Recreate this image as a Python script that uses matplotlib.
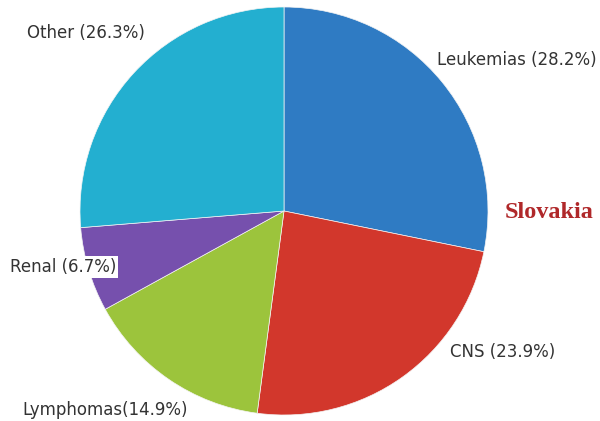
import matplotlib.pyplot as plt

labels = ['Leukemias', 'CNS', 'Lymphomas', 'Renal', 'Other']
shares = [28.2, 23.9, 14.9, 6.7, 26.3]
colors = ['#2f7bc3', '#d2372c', '#9cc43c', '#7650ad', '#23afd0']

fig = plt.figure(figsize=(6, 4.21), dpi=100)
ax = fig.add_axes([0, 0, 1, 1])

ax.pie(shares, colors=colors, startangle=90, counterclock=False,
       center=(284, 210), radius=204, frame=True,
       wedgeprops=dict(edgecolor='#f4f4f4', linewidth=0.5))
ax.set_xlim(0, 600)
ax.set_ylim(0, 421)
ax.set_aspect('equal')
ax.axis('off')

txt = dict(fontsize=12, color='#333333', family='DejaVu Sans', va='center')
ax.text(437, 421 - 60, '%s (%.1f%%)' % (labels[0], shares[0]), ha='left', **txt)
ax.text(450, 421 - 352, '%s (%.1f%%)' % (labels[1], shares[1]), ha='left', **txt)
ax.text(22, 421 - 410, '%s(%.1f%%)' % (labels[2], shares[2]), ha='left', **txt)
ax.text(10, 421 - 267, '%s (%.1f%%)' % (labels[3], shares[3]), ha='left',
        bbox=dict(facecolor='white', edgecolor='none', pad=1.5), **txt)
ax.text(27, 421 - 33, '%s (%.1f%%)' % (labels[4], shares[4]), ha='left', **txt)

ax.text(505, 421 - 213, 'Slovakia', ha='left', va='center', fontsize=17.5,
        fontweight='bold', family='Liberation Serif', color='#b0282a')

fig.savefig('out.png', dpi=100)
